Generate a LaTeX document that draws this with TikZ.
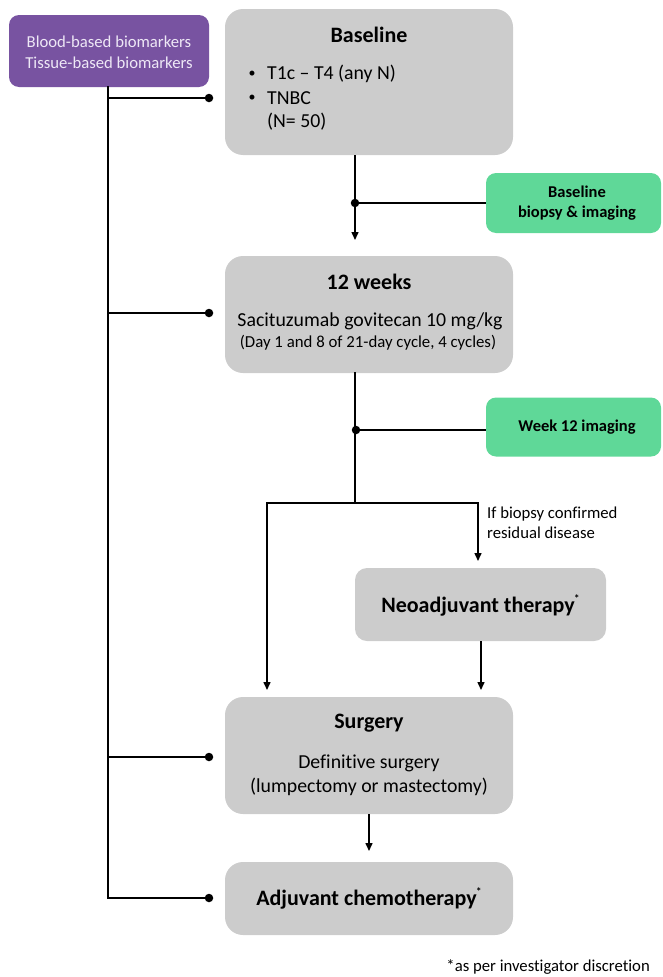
\documentclass[tikz,border=0pt]{standalone}
\usepackage{fontspec}
\setmainfont{Carlito}[Ligatures=NoCommon]
\usetikzlibrary{arrows.meta}
\definecolor{boxgray}{HTML}{CCCCCC}
\definecolor{purp}{HTML}{7853A1}
\definecolor{purptext}{HTML}{EEE8F6}
\definecolor{mint}{HTML}{5FD898}
\newcommand{\fsz}[2]{\fontsize{#1}{#2}\selectfont}
\newcommand{\astsup}{\kern-0.5pt\raisebox{0.45em}{\fsz{11}{12}*}}
\begin{document}
\begin{tikzpicture}[x=1pt,y=-1pt,
  graybox/.style={fill=boxgray, draw=none, rounded corners=18pt, inner sep=0pt},
  smallgray/.style={fill=boxgray, draw=none, rounded corners=12pt, inner sep=0pt},
  purpbox/.style={fill=purp, draw=none, rounded corners=10pt, inner sep=0pt},
  greenbox/.style={fill=mint, draw=none, rounded corners=10pt, inner sep=0pt},
  head/.style={font=\fsz{22}{26}\bfseries, inner sep=0pt},
  body/.style={font=\fsz{19.8}{24}, inner sep=0pt},
  bullet/.style={font=\fsz{14}{16}, inner sep=0pt},
  small/.style={font=\fsz{16.7}{20}, inner sep=0pt},
  gtext/.style={font=\fsz{16.5}{20}\bfseries, align=center, inner sep=0pt},
  trunk/.style={line width=1.7pt, line cap=rect},
  branch/.style={line width=1.2pt},
  arr/.style={-{Triangle[width=7pt,length=8pt]}},
  dot/.style={circle, fill=black, inner sep=0pt, minimum size=8.5pt}
]
\useasboundingbox (0,0) rectangle (662,977);

% boxes
\node[purpbox, minimum width=200pt, minimum height=72pt] (purp) at (109,51) {};
\node[graybox, minimum width=288pt, minimum height=146pt] (base) at (369,82) {};
\node[greenbox, minimum width=175pt, minimum height=60pt] (g1) at (573.5,203) {};
\node[graybox, minimum width=288pt, minimum height=117pt] (wk) at (369,314.5) {};
\node[greenbox, minimum width=175pt, minimum height=59pt] (g2) at (573.5,427) {};
\node[smallgray, minimum width=251pt, minimum height=73pt] (neo) at (480.5,604.5) {};
\node[graybox, minimum width=288pt, minimum height=117pt] (surg) at (369,755.5) {};
\node[graybox, minimum width=288pt, minimum height=73pt] (adj) at (369,898.5) {};

% texts
\node[font=\fsz{16.7}{21}, text=purptext, align=center, inner sep=0pt] (purpt) at (109,52.5)
  {Blood-based biomarkers\\Tissue-based biomarkers};
\node[head] (baset) at (369,35) {Baseline};
\node[bullet] (b1) at (252,74) {•};
\node[body, anchor=west] (b1t) at (267,74) {T1c – T4 (any N)};
\node[bullet] (b2) at (252,98) {•};
\node[body, anchor=west] (b2t) at (267,98) {TNBC};
\node[body, anchor=west] (b3t) at (267,122) {(N= 50)};
\node[gtext] (g1t) at (577,203.5) {Baseline\\biopsy \& imaging};
\node[head] (wkt) at (369,282) {12 weeks};
\node[body] (wk1) at (370,321) {Sacituzumab govitecan 10 mg/kg};
\node[font=\fsz{16.8}{20}, inner sep=0pt] (wk2) at (368,343) {(Day 1 and 8 of 21-day cycle, 4 cycles)};
\node[gtext] (g2t) at (577,427) {Week 12 imaging};
\node[small, align=left, anchor=west] (cond) at (487,523) {If biopsy confirmed\\residual disease};
\node[head] (neot) at (480.5,605) {Neoadjuvant therapy\astsup};
\node[head] (surgt) at (369,723) {Surgery};
\node[body] (s1) at (369,763) {Definitive surgery};
\node[body] (s2) at (369,787) {(lumpectomy or mastectomy)};
\node[head] (adjt) at (369,898) {Adjuvant chemotherapy\astsup};
\node[small, anchor=east] (foot) at (650,967) {*as per investigator discretion};

% coordinates
\coordinate (lt) at (108,87);
\coordinate (lb) at (108,898);
\coordinate (lj1) at (108,98);
\coordinate (lj2) at (108,313);
\coordinate (lj3) at (108,757);
\node[dot] (d1) at (209,98) {};
\node[dot] (d2) at (209,313) {};
\node[dot] (d3) at (209,757) {};
\node[dot] (d4) at (209,898) {};
\node[dot] (d5) at (355,203) {};
\node[dot] (d6) at (356,430) {};
\coordinate (a1) at (355,240);
\coordinate (fk) at (355,503);
\coordinate (fl) at (267,503);
\coordinate (fr) at (478,503);
\coordinate (al) at (267,690);
\coordinate (ar) at (478,561);
\coordinate (ar2) at (481,690);
\coordinate (a3) at (369,851);

% left trunk
\draw[trunk] (lt) -- (lb);
\draw[branch] (lj1) -- (d1);
\draw[branch] (lj2) -- (d2);
\draw[branch] (lj3) -- (d3);
\draw[branch] (lb) -- (d4);

% baseline -> 12 weeks
\draw[line width=1.5pt, arr] (base.south -| d5) -- (a1);
\draw[branch] (d5) -- (d5 -| g1.west);

% 12 weeks -> fork
\draw[trunk] (wk.south -| fk) -- (fk);
\draw[branch] (d6) -- (d6 -| g2.west);
\draw[trunk] (fl) -- (fr);
\draw[line width=1.5pt, arr] (fl) -- (al);
\draw[line width=1.5pt, arr] (fr) -- (ar);
\draw[line width=1.5pt, arr] (neo.south -| ar2) -- (ar2);
\draw[line width=1.5pt, arr] (surg.south) -- (a3);
\end{tikzpicture}
\end{document}
